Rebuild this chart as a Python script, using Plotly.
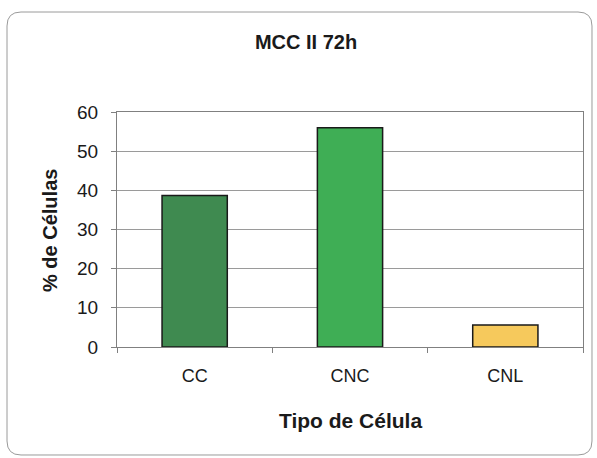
import plotly.graph_objects as go

# Data
categories = ["CC", "CNC", "CNL"]
values = [38.7, 56.0, 5.6]
bar_colors = ["#3f8a50", "#3fae55", "#f6c95c"]
y_ticks = [0, 10, 20, 30, 40, 50, 60]

W, H = 597, 458
ml, mr, mt, mb = 117, 14, 112, 111
pw, ph = W - ml - mr, H - mt - mb


def px_to_paper(x, y):
    return (x - ml) / pw, 1 - (y - mt) / ph


def rounded_rect_path(x0, y0, x1, y1, r):
    # Rounded frame drawn in pixel space, converted to paper coordinates
    def P(x, y):
        px, py = px_to_paper(x, y)
        return f"{px:.5f},{py:.5f}"
    return (f"M {P(x0 + r, y0)} L {P(x1 - r, y0)} "
            f"Q {P(x1, y0)} {P(x1, y0 + r)} L {P(x1, y1 - r)} "
            f"Q {P(x1, y1)} {P(x1 - r, y1)} L {P(x0 + r, y1)} "
            f"Q {P(x0, y1)} {P(x0, y1 - r)} L {P(x0, y0 + r)} "
            f"Q {P(x0, y0)} {P(x0 + r, y0)} Z")


font_family = "Liberation Sans, Arial, sans-serif"
ink = "#1a1a1a"

fig = go.Figure(
    go.Bar(
        x=categories,
        y=values,
        marker=dict(color=bar_colors, line=dict(color=ink, width=1.5)),
        width=0.42,
    )
)

tx, ty = px_to_paper(350, 420)
yx, yy = px_to_paper(50, 231)

fig.update_layout(
    width=W,
    height=H,
    margin=dict(l=ml, r=mr, t=mt, b=mb),
    paper_bgcolor="white",
    plot_bgcolor="white",
    showlegend=False,
    font=dict(family=font_family, color=ink),
    title=dict(
        text="<b>MCC II 72h</b>",
        x=306 / W,
        xanchor="center",
        y=1 - 42 / H,
        yanchor="middle",
        font=dict(size=20, family=font_family, color=ink),
    ),
    annotations=[
        dict(
            text="<b>Tipo de Célula</b>",
            xref="paper", yref="paper", x=tx, y=ty,
            xanchor="center", yanchor="middle", showarrow=False,
            font=dict(size=21, family=font_family, color=ink),
        ),
        dict(
            text="<b>% de Células</b>",
            xref="paper", yref="paper", x=yx, y=yy, textangle=-90,
            xanchor="center", yanchor="middle", showarrow=False,
            font=dict(size=20, family=font_family, color=ink),
        ),
    ],
    shapes=[
        dict(
            type="path",
            xref="paper",
            yref="paper",
            path=rounded_rect_path(7, 12, 592, 455, 14),
            line=dict(color="#9a9a9a", width=1),
            layer="below",
        )
    ],
)

fig.update_xaxes(
    tickson="boundaries",
    ticks="outside",
    ticklen=5,
    tickcolor="#808080",
    showline=True,
    linecolor="#808080",
    linewidth=1,
    mirror=True,
    showgrid=False,
    ticklabelstandoff=12,
    tickfont=dict(size=18, family=font_family, color=ink),
)

fig.update_yaxes(
    range=[0, 60],
    tickvals=y_ticks,
    ticks="outside",
    ticklen=5,
    tickcolor="#808080",
    showline=True,
    linecolor="#808080",
    linewidth=1,
    mirror=True,
    showgrid=True,
    gridcolor="#9a9a9a",
    gridwidth=1,
    zeroline=False,
    ticklabelstandoff=9,
    tickfont=dict(size=19, family=font_family, color=ink),
)

fig.write_html("out.html")
